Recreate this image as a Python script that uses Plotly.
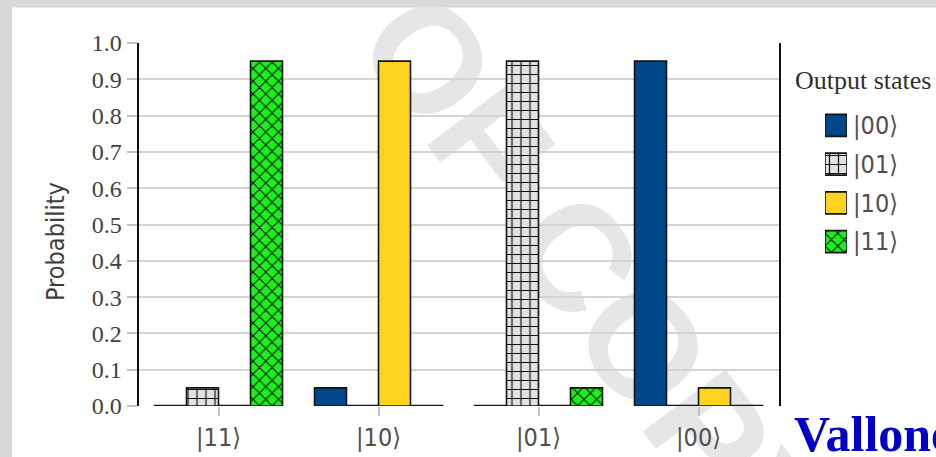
import plotly.graph_objects as go

# Page geometry (px) used to place the axes domains and the free-floating texts
W, H = 936, 457


def fx(px):
    return px / W


def fy(py):
    return 1 - py / H


# ---- data -------------------------------------------------------------------
input_states = ["|11⟩", "|10⟩", "|01⟩", "|00⟩"]      # x categories
output_states = ["|00⟩", "|01⟩", "|10⟩", "|11⟩"]     # series
prob_00 = [0.00, 0.05, 0.00, 0.95]
prob_01 = [0.05, 0.00, 0.95, 0.00]
prob_10 = [0.00, 0.95, 0.00, 0.05]
prob_11 = [0.95, 0.00, 0.05, 0.00]
series_values = [prob_00, prob_01, prob_10, prob_11]
y_ticks = [round(0.1 * i, 1) for i in range(11)]

# ---- styles -----------------------------------------------------------------
SANS = "DejaVu Sans Condensed, DejaVu Sans, sans-serif"
SERIF = "Liberation Serif, Times New Roman, serif"
OUTLINE = dict(color="#141414", width=1.6)
series_style = {
    "|00⟩": dict(color="#00468b"),
    "|01⟩": dict(color="#e2e2e2",
                 pattern=dict(shape="+", fgcolor="#111111", bgcolor="#e2e2e2",
                              size=9, solidity=0.25, fillmode="replace")),
    "|10⟩": dict(color="#fdd31f"),
    "|11⟩": dict(color="#1cf01c",
                 pattern=dict(shape="x", fgcolor="#111111", bgcolor="#1cf01c",
                              size=9, solidity=0.22, fillmode="replace")),
}
# zero-probability bars are shown as a flat outline on the baseline
ZERO_HEIGHT = 0.0012

fig = go.Figure()

for name, vals in zip(output_states, series_values):
    st = series_style[name]
    marker = dict(color=st["color"], line=OUTLINE)
    if "pattern" in st:
        marker["pattern"] = st["pattern"]
    fig.add_bar(
        x=input_states,
        y=[v if v > 0 else ZERO_HEIGHT for v in vals],
        customdata=vals,
        hovertemplate=name + ": %{customdata:.2f}<extra></extra>",
        name=name,
        marker=marker,
        showlegend=False,
    )

# Legend key drawn as a small horizontal-bar panel so the swatches can be large
for name in output_states:
    st = series_style[name]
    marker = dict(color=st["color"], line=OUTLINE)
    if "pattern" in st:
        marker["pattern"] = st["pattern"]
    fig.add_bar(
        y=[name], x=[1], orientation="h", xaxis="x2", yaxis="y2",
        width=0.57, offsetgroup="key", marker=marker,
        showlegend=False, hoverinfo="skip",
    )

fig.update_layout(
    width=W, height=H,
    margin=dict(l=0, r=0, t=0, b=0),
    paper_bgcolor="white",
    plot_bgcolor="white",
    barmode="group",
    bargap=0.2,
    bargroupgap=0.0,
    showlegend=False,
    xaxis=dict(
        domain=[fx(138.5), fx(778.5)],
        categoryorder="array", categoryarray=input_states,
        showgrid=False, showline=False, zeroline=False,
        ticks="outside", ticklen=9, tickwidth=1.5, tickcolor="#c4c4c4",
        tickfont=dict(family=SANS, size=25, color="#505050"),
        automargin=False,
    ),
    yaxis=dict(
        domain=[fy(406), fy(43)],
        range=[0, 1.0],
        tickvals=y_ticks,
        ticktext=[f"{t:.1f}" for t in y_ticks],
        showgrid=True, gridcolor="#d4d4d4", gridwidth=2,
        zeroline=False,
        showline=True, linecolor="#111111", linewidth=2, mirror=True,
        ticks="outside", ticklen=10, tickwidth=2, tickcolor="#c4c4c4",
        tickfont=dict(family=SERIF, size=24, color="#404040"),
        automargin=False,
    ),
    xaxis2=dict(
        domain=[fx(825), fx(847)], range=[0, 1], anchor="y2",
        visible=False, fixedrange=True,
    ),
    yaxis2=dict(
        domain=[fy(261), fy(106)], anchor="x2",
        categoryorder="array", categoryarray=output_states,
        autorange="reversed",
        side="right", showgrid=False, showline=False, zeroline=False,
        ticks="", ticklabelstandoff=5,
        tickfont=dict(family=SANS, size=25, color="#505050"),
        fixedrange=True, automargin=False,
    ),
    shapes=[
        # faint diagonal watermark behind the chart
        dict(type="rect", xref="paper", yref="paper",
             x0=fx(557), x1=fx(657), y0=fy(324), y1=fy(224),
             line=dict(width=0), fillcolor="rgba(0,0,0,0)", layer="below",
             label=dict(text="OF COPY", textangle=53, textposition="middle center",
                        font=dict(family="Liberation Sans, Arial, sans-serif",
                                  size=150, color="#e6e6e6", weight="bold"))),
        # grey frame around the page
        dict(type="rect", xref="paper", yref="paper",
             x0=0, x1=1, y0=fy(7.5), y1=1,
             line=dict(width=0), fillcolor="#d8d8d8", layer="below"),
        dict(type="rect", xref="paper", yref="paper",
             x0=0, x1=fx(12), y0=0, y1=1,
             line=dict(width=0), fillcolor="#d8d8d8", layer="below"),
    ],
    annotations=[
        dict(text="Probability", xref="paper", yref="paper",
             x=fx(55), y=fy(242), textangle=-90, showarrow=False,
             xanchor="center", yanchor="middle",
             font=dict(family=SANS, size=25, color="#404040")),
        dict(text="Output states", xref="paper", yref="paper",
             x=fx(793), y=fy(80), showarrow=False,
             xanchor="left", yanchor="middle",
             font=dict(family=SERIF, size=26, color="#303030")),
        dict(text="<b>Vallone</b>", xref="paper", yref="paper",
             x=fx(792), y=fy(434), showarrow=False,
             xanchor="left", yanchor="middle",
             font=dict(family=SERIF, size=50, color="#0000c8")),
    ],
)

fig.write_html("out.html")
